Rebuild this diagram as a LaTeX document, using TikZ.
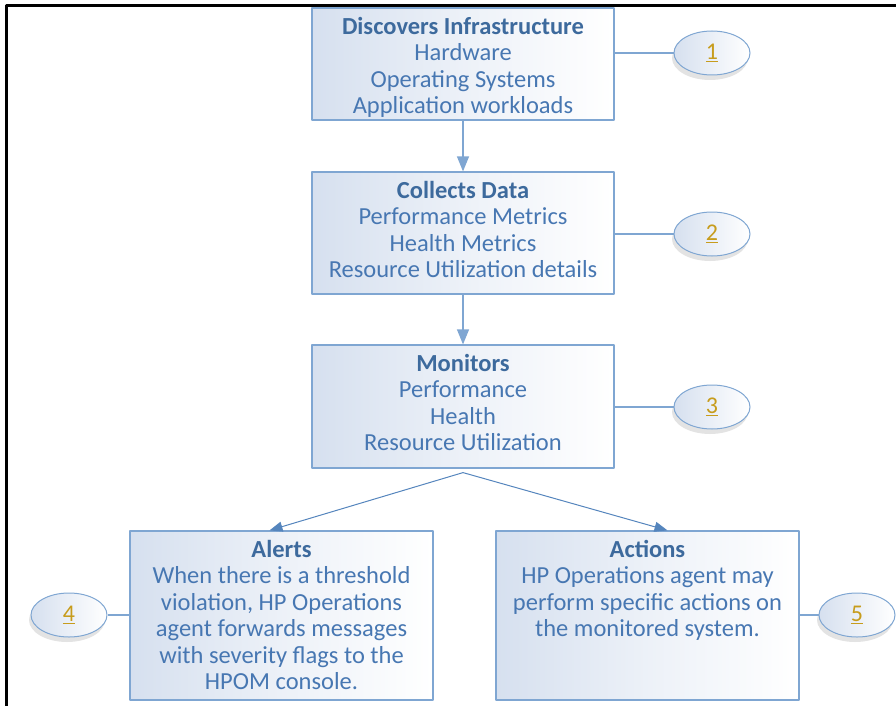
\documentclass[tikz,border=0pt]{standalone}
\usepackage{fontspec}
\setmainfont{Carlito}
\usetikzlibrary{positioning,shapes.geometric,arrows.meta,shadows}
\definecolor{edgeblue}{HTML}{7FA6D2}
\definecolor{fillblue}{HTML}{D6E0EF}
\definecolor{txtblue}{HTML}{4777B2}
\definecolor{headblue}{HTML}{3D6A9D}
\definecolor{numgold}{HTML}{C79C1C}
\definecolor{linkblue}{HTML}{5585BD}
\tikzset{
	stagebox/.style={draw=edgeblue, line width=1.2pt, left color=fillblue, right color=white, middle color=fillblue!45, inner sep=0, minimum width=302pt},
	stagetext/.style={text=txtblue, font=\fontsize{24.5}{26.5}\selectfont, align=center, inner sep=0},
	callout/.style={ellipse, draw=edgeblue, line width=1pt, left color=fillblue, right color=white, minimum width=76pt, minimum height=44pt, inner sep=0, text=numgold, font=\fontsize{24}{26}\selectfont, drop shadow={shadow xshift=-2pt, shadow yshift=-5pt, fill=black!50, opacity=.22}},
	tie/.style={edgeblue, line width=1.2pt},
}
\newcommand\heading[1]{\strut\textcolor{headblue}{\bfseries #1}}
\begin{document}
\begin{tikzpicture}[x=1pt, y=-1pt, line join=round]
	\useasboundingbox (0,0) rectangle (896,706);
	\draw[line width=3pt] (6,706)--(6,6)--(896,6);
	% boxes
	\node[stagebox, minimum height=112pt] (b1) at (463,64) {};
	\node[stagebox, minimum height=122pt] (b2) at (463,233) {};
	\node[stagebox, minimum height=123pt] (b3) at (463,406.5) {};
	\node[stagebox, minimum width=303pt, minimum height=169pt] (alerts) at (281.5,615.5) {};
	\node[stagebox, minimum width=303pt, minimum height=169pt] (actions) at (647.5,615.5) {};
	\node[stagetext, below=8pt of b1.north] (t1) {\heading{Discovers Infrastructure}\\Hardware\\Operating Systems\\Application workloads};
	\node[stagetext, below=8pt of b2.north] (t2) {\heading{Collects Data}\\Performance Metrics\\Health Metrics\\Resource Utilization details};
	\node[stagetext, below=8pt of b3.north] (t3) {\heading{Monitors}\\Performance\\Health\\Resource Utilization};
	\node[stagetext, below=8pt of alerts.north] (t4) {\heading{Alerts}\\When there is a threshold\\violation, HP Operations\\agent forwards messages\\with severity flags to the\\HPOM console.};
	\node[stagetext, below=8pt of actions.north] (t5) {\heading{Actions}\\HP Operations agent may\\perform specific actions on\\the monitored system.};
	% callouts
	\node[callout] (e1) at (712,53) {\underline{1}};
	\node[callout] (e2) at (712,234) {\underline{2}};
	\node[callout] (e3) at (712,407) {\underline{3}};
	\node[callout] (e4) at (69,615) {\underline{4}};
	\node[callout] (e5) at (857,615) {\underline{5}};
	\draw[tie] (e1.west) -- (e1.west -| b1.east);
	\draw[tie] (e2.west) -- (e2.west -| b2.east);
	\draw[tie] (e3.west) -- (e3.west -| b3.east);
	\draw[tie] (e4.east) -- (e4.east -| alerts.west);
	\draw[tie] (e5.west) -- (e5.west -| actions.east);
	% flow
	\draw[tie, -{Triangle[length=15pt,width=12pt]}] (b1) -- (b2);
	\draw[tie, -{Triangle[length=15pt,width=12pt]}] (b2) -- (b3);
	\coordinate (fork) at ([yshift=-4pt]b3.south);
	\draw[linkblue, line width=1pt, -{Triangle[length=13pt,width=10pt]}] (fork) -- ([xshift=-12pt]alerts.north);
	\draw[linkblue, line width=1pt, -{Triangle[length=13pt,width=10pt]}] (fork) -- ([xshift=20pt]actions.north);
\end{tikzpicture}
\end{document}
